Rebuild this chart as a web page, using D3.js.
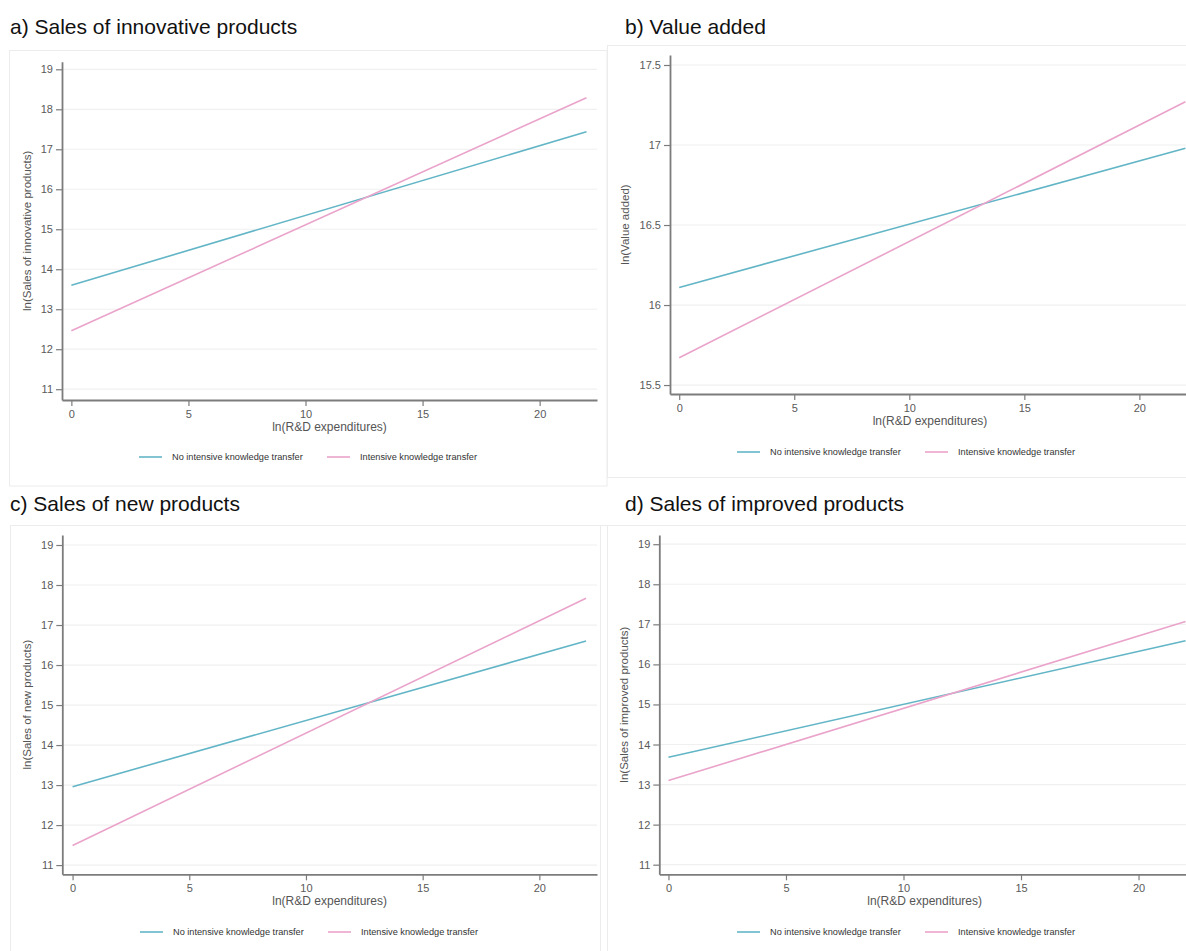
<!DOCTYPE html>
<html>
<head>
<meta charset="utf-8">
<script src="https://cdn.jsdelivr.net/npm/d3@7"></script>
<style>
  html, body { margin: 0; padding: 0; background: #fff; }
  svg { display: block; font-family: "Liberation Sans", Arial, sans-serif; }
</style>
</head>
<body>
<svg id="chart" width="1186" height="951"></svg>
<script>
// ---- data ----
const xPoints = [0, 22];
const seriesNames = ["No intensive knowledge transfer", "Intensive knowledge transfer"];
const panelTitles = ["a) Sales of innovative products", "b) Value added", "c) Sales of new products", "d) Sales of improved products"];
const yTitles = ["ln(Sales of innovative products)", "ln(Value added)", "ln(Sales of new products)", "ln(Sales of improved products)"];
const xTitle = "ln(R&D expenditures)";
const xTicks = [0, 5, 10, 15, 20];
const yTicksA = [11, 12, 13, 14, 15, 16, 17, 18, 19];
const yTicksB = [15.5, 16, 16.5, 17, 17.5];
const yTicksC = [11, 12, 13, 14, 15, 16, 17, 18, 19];
const yTicksD = [11, 12, 13, 14, 15, 16, 17, 18, 19];
// fitted values at x = 0 and x = 22
const noTransferA = [13.60, 17.44];
const transferA   = [12.46, 18.29];
const noTransferB = [16.11, 16.98];
const transferB   = [15.67, 17.27];
const noTransferC = [12.96, 16.60];
const transferC   = [11.49, 17.67];
const noTransferD = [13.68, 16.59];
const transferD   = [13.10, 17.07];

const colors = ["#62b5c6", "#eaa3ca"];

// ---- layout ----
const panels = [
  { title: panelTitles[0], yTitle: yTitles[0], yTicks: yTicksA, series: [noTransferA, transferA],
    titleX: 10, titleY: 34, frame: [9.5, 50.5, 597.5, 435.5],
    xRange: [62, 597], xDom: [-0.4, 22.45], yRange: [400, 61.7], yDom: [10.73, 19.19],
    yTitleX: 31, legendY: 457, legendX: 139, fmt: d3.format("d") },
  { title: panelTitles[1], yTitle: yTitles[1], yTicks: yTicksB, series: [noTransferB, transferB],
    titleX: 625, titleY: 34, frame: [607.5, 45.5, 600, 432],
    xRange: [670, 1190], xDom: [-0.4, 22.2], yRange: [394, 55], yDom: [15.444, 17.5625],
    yTitleX: 629, legendY: 452, legendX: 737, fmt: d => (d % 1 === 0 ? d3.format("d")(d) : d3.format(".1f")(d)) },
  { title: panelTitles[2], yTitle: yTitles[2], yTicks: yTicksC, series: [noTransferC, transferC],
    titleX: 10, titleY: 511, frame: [10.5, 525.5, 597, 440],
    xRange: [62.3, 597], xDom: [-0.44, 22.47], yRange: [874.3, 535], yDom: [10.77, 19.25],
    yTitleX: 31, legendY: 932, legendX: 140, fmt: d3.format("d") },
  { title: panelTitles[3], yTitle: yTitles[3], yTicks: yTicksD, series: [noTransferD, transferD],
    titleX: 625, titleY: 511, frame: [600.5, 525.5, 600, 440],
    xRange: [659.3, 1190], xDom: [-0.39, 22.19], yRange: [874.3, 535], yDom: [10.76, 19.23],
    yTitleX: 628, legendY: 932, legendX: 737, fmt: d3.format("d") }
];

const svg = d3.select("#chart");

panels.forEach(p => {
  const g = svg.append("g");
  // panel frame
  g.append("rect")
    .attr("x", p.frame[0]).attr("y", p.frame[1])
    .attr("width", p.frame[2]).attr("height", p.frame[3])
    .attr("fill", "none").attr("stroke", "#ececec").attr("stroke-width", 1);

  // title
  g.append("text")
    .attr("x", p.titleX).attr("y", p.titleY)
    .attr("font-size", 21).attr("fill", "#111")
    .text(p.title);

  const x = d3.scaleLinear().domain(p.xDom).range(p.xRange);
  const y = d3.scaleLinear().domain(p.yDom).range(p.yRange);

  // gridlines
  g.append("g").selectAll("line").data(p.yTicks).join("line")
    .attr("x1", p.xRange[0]).attr("x2", p.xRange[1])
    .attr("y1", d => y(d)).attr("y2", d => y(d))
    .attr("stroke", "#f0f0f0").attr("stroke-width", 1.2);

  // y axis
  const yAxis = g.append("g")
    .attr("transform", `translate(${p.xRange[0]},0)`)
    .call(d3.axisLeft(y).tickValues(p.yTicks).tickFormat(p.fmt).tickSizeInner(6).tickSizeOuter(0).tickPadding(3));
  // x axis
  const xAxis = g.append("g")
    .attr("transform", `translate(0,${p.yRange[0]})`)
    .call(d3.axisBottom(x).tickValues(xTicks).tickFormat(d3.format("d")).tickSizeInner(6).tickSizeOuter(0).tickPadding(4));

  [yAxis, xAxis].forEach(ax => {
    ax.select(".domain").attr("stroke", "#7c7c7c").attr("stroke-width", 1.8);
    ax.selectAll(".tick line").attr("stroke", "#7c7c7c").attr("stroke-width", 1.2);
    ax.selectAll(".tick text").attr("fill", "#5a5a5a").attr("font-size", 11)
      .attr("font-family", "'Liberation Sans', Arial, sans-serif");
  });

  // axis titles
  g.append("text")
    .attr("x", (p.xRange[0] + p.xRange[1]) / 2 - (p.xRange[1] > 1000 ? 0 : 0))
    .attr("y", p.yRange[0] + 31)
    .attr("text-anchor", "middle").attr("font-size", 12).attr("fill", "#555")
    .text(xTitle);
  g.append("text")
    .attr("transform", `translate(${p.yTitleX},${(p.yRange[0] + p.yRange[1]) / 2}) rotate(-90)`)
    .attr("text-anchor", "middle").attr("font-size", 11.5).attr("fill", "#555")
    .text(p.yTitle);

  // lines
  const line = d3.line().x(d => x(d[0])).y(d => y(d[1]));
  p.series.forEach((vals, i) => {
    g.append("path")
      .datum(xPoints.map((xv, j) => [xv, vals[j]]))
      .attr("d", line)
      .attr("fill", "none").attr("stroke", colors[i]).attr("stroke-width", 1.6);
  });

  // legend
  const legendOffsets = [0, 188];
  seriesNames.forEach((name, i) => {
    const lx = p.legendX + legendOffsets[i];
    g.append("line")
      .attr("x1", lx).attr("x2", lx + 23)
      .attr("y1", p.legendY).attr("y2", p.legendY)
      .attr("stroke", colors[i]).attr("stroke-width", 1.6);
    g.append("text")
      .attr("x", lx + 33).attr("y", p.legendY + 3)
      .attr("font-size", 9.2).attr("fill", "#333")
      .text(name);
  });
});
</script>
</body>
</html>
